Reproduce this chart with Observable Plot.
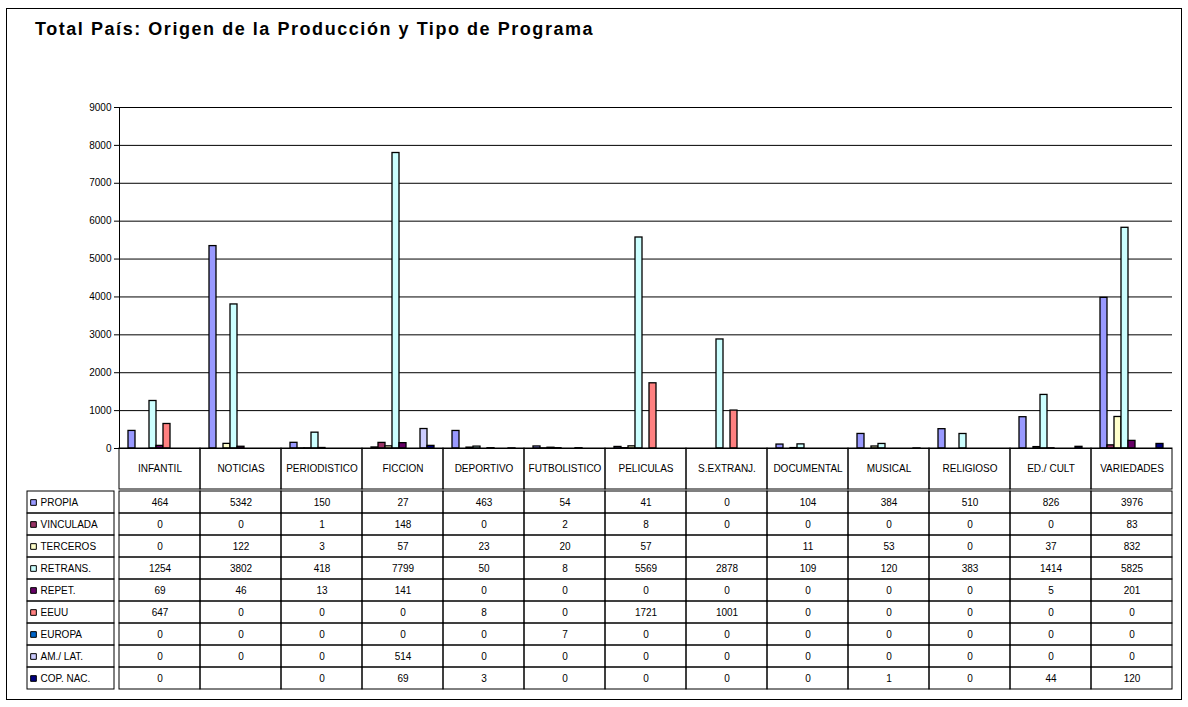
<!DOCTYPE html>
<html>
<head>
<meta charset="utf-8">
<script src="https://cdn.jsdelivr.net/npm/d3@7"></script>
<script src="https://cdn.jsdelivr.net/npm/@observablehq/plot@0.6"></script>
<style>
  html, body { margin: 0; padding: 0; background: #fff; }
  #page { position: relative; width: 1188px; height: 707px; font-family: "Liberation Sans", Arial, sans-serif; }
  #frame { position: absolute; left: 6px; top: 8px; width: 1176px; height: 692px; border: 1px solid #000; box-sizing: border-box; }
  #title { position: absolute; left: 35px; top: 19px; font-size: 18px; font-weight: bold; letter-spacing: 1.55px; color: #000; white-space: nowrap; }
  #page svg { position: absolute; overflow: visible; }
</style>
</head>
<body>
<div id="page">
  <div id="frame"></div>
  <div id="title">Total País: Origen de la Producción y Tipo de Programa</div>
</div>
<script>
// Program types (columns) and production origins (series)
const categories = ["INFANTIL", "NOTICIAS", "PERIODISTICO", "FICCION", "DEPORTIVO", "FUTBOLISTICO", "PELICULAS", "S.EXTRANJ.", "DOCUMENTAL", "MUSICAL", "RELIGIOSO", "ED./ CULT", "VARIEDADES"];
const series = ["PROPIA", "VINCULADA", "TERCEROS", "RETRANS.", "REPET.", "EEUU", "EUROPA", "AM./ LAT.", "COP. NAC."];
const seriesColors = ["#9999FF", "#993366", "#FFFFCC", "#CCFFFF", "#660066", "#FF8080", "#0066CC", "#CCCCFF", "#000080"];

// Hours per origin, one value per program type (null = empty cell)
const propia    = [464, 5342, 150, 27, 463, 54, 41, 0, 104, 384, 510, 826, 3976];
const vinculada = [0, 0, 1, 148, 0, 2, 8, 0, 0, 0, 0, 0, 83];
const terceros  = [0, 122, 3, 57, 23, 20, 57, null, 11, 53, 0, 37, 832];
const retrans   = [1254, 3802, 418, 7799, 50, 8, 5569, 2878, 109, 120, 383, 1414, 5825];
const repet     = [69, 46, 13, 141, 0, 0, 0, 0, 0, 0, 0, 5, 201];
const eeuu      = [647, 0, 0, 0, 8, 0, 1721, 1001, 0, 0, 0, 0, 0];
const europa    = [0, 0, 0, 0, 0, 7, 0, 0, 0, 0, 0, 0, 0];
const amlat     = [0, 0, 0, 514, 0, 0, 0, 0, 0, 0, 0, 0, 0];
const copnac    = [0, null, 0, 69, 3, 0, 0, 0, 0, 1, 0, 44, 120];

const yTicks = [0, 1000, 2000, 3000, 4000, 5000, 6000, 7000, 8000, 9000];

const valuesBySeries = [propia, vinculada, terceros, retrans, repet, eeuu, europa, amlat, copnac];
const rows = [];
series.forEach((s, si) => {
  categories.forEach((c, ci) => {
    rows.push({series: s, category: c, value: valuesBySeries[si][ci]});
  });
});

const font = {fontFamily: "Liberation Sans, Arial, sans-serif", fontSize: "10px", color: "#000", background: "transparent", overflow: "visible"};
const W = 1188, ML = 113, MR = 10;
const page = document.getElementById("page");

function place(svg, left, top) {
  svg.style.left = left + "px";
  svg.style.top = top + "px";
  page.appendChild(svg);
}

// Clustered column chart
const chart = Plot.plot({
  width: W, height: 449,
  marginTop: 107, marginBottom: 1, marginLeft: ML, marginRight: MR,
  style: font,
  fx: {domain: categories, padding: 0, axis: null, label: null},
  x: {domain: series, paddingInner: 0, paddingOuter: 0.75, axis: null},
  y: {domain: [0, 9000], ticks: yTicks, tickSize: 5, tickPadding: 3, tickFormat: "d", label: null, line: true},
  color: {domain: series, range: seriesColors},
  marks: [
    Plot.ruleY(yTicks, {stroke: "#000", strokeWidth: 1}),
    Plot.barY(rows.filter(d => d.value != null), {fx: "category", x: "series", y: "value", fill: "series", stroke: "#000", strokeWidth: 1.3})
  ]
});
place(chart, 0, 0);

// Category header row of the data table
const header = Plot.plot({
  width: W, height: 41,
  marginTop: 0, marginBottom: 0, marginLeft: ML, marginRight: MR,
  style: font,
  x: {domain: categories, padding: 0, axis: null},
  marks: [
    Plot.cell(categories, {x: d => d, fill: "none", stroke: "#000"}),
    Plot.text(categories, {x: d => d, text: d => d, fontSize: 10, fill: "#000"})
  ]
});
place(header, 0, 448);

// Data table body
const body = Plot.plot({
  width: W, height: 204,
  marginTop: 0, marginBottom: 0, marginLeft: ML, marginRight: MR,
  style: font,
  x: {domain: categories, padding: 0, axis: null},
  y: {domain: series, padding: 0, axis: null},
  marks: [
    Plot.cell(rows, {x: "category", y: "series", fill: "none", stroke: "#000"}),
    Plot.text(rows, {x: "category", y: "series", text: d => d.value == null ? "" : String(d.value), fontSize: 10, fill: "#000"})
  ]
});
place(body, 0, 488);

// Legend column of the data table (shares its right edge with the body's left edge)
const legendCol = Plot.plot({
  width: ML + 1, height: 204,
  marginTop: 0, marginBottom: 0, marginLeft: 27, marginRight: 0,
  style: font,
  x: {domain: ["key"], padding: 0, axis: null},
  y: {domain: series, padding: 0, axis: null},
  color: {domain: series, range: seriesColors},
  marks: [
    Plot.cell(series, {x: () => "key", y: d => d, fill: "none", stroke: "#000"}),
    Plot.dot(series, {y: d => d, frameAnchor: "left", dx: 6, symbol: "square", r: 3.2, fill: d => d, stroke: "#000", strokeWidth: 1}),
    Plot.text(series, {y: d => d, text: d => d, frameAnchor: "left", dx: 13, textAnchor: "start", fontSize: 10, fill: "#000"})
  ]
});
place(legendCol, 0, 488);
</script>
</body>
</html>
